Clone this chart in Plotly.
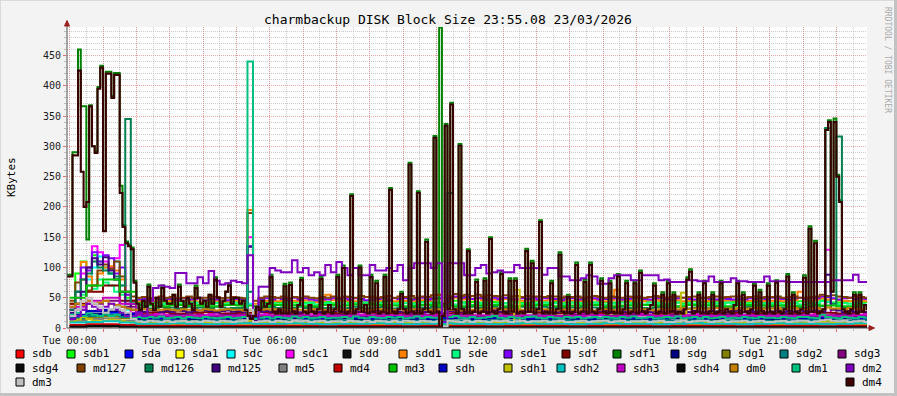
import numpy as np
import plotly.graph_objects as go

# ---------------- text ----------------
TITLE = "charmbackup DISK Block Size 23:55.08 23/03/2026"
Y_LABEL = "KBytes"
SIDE_TEXT = "RRDTOOL / TOBI OETIKER"
X_TICK_HOURS = list(range(24))
X_TICK_TEXT = [f"Tue {h:02d}:00" if h % 3 == 0 else "" for h in X_TICK_HOURS]

# ---------------- series (legend order = drawing order) ----------------
SERIES = ["sdb", "sdb1", "sda", "sda1", "sdc", "sdc1", "sdd", "sdd1", "sde", "sde1",
          "sdf", "sdf1", "sdg", "sdg1", "sdg2", "sdg3", "sdg4", "md127", "md126", "md125",
          "md5", "md4", "md3", "sdh", "sdh1", "sdh2", "sdh3", "sdh4", "dm0", "dm1", "dm2",
          "dm3", "dm4"]
COLORS = {
    "sdb": "#FF0000", "sdb1": "#00FF00", "sda": "#0000FF", "sda1": "#FFFF00",
    "sdc": "#00FFFF", "sdc1": "#FF00FF", "sdd": "#111111", "sdd1": "#FF8000",
    "sde": "#00FF80", "sde1": "#8000FF", "sdf": "#800000", "sdf1": "#008000",
    "sdg": "#000080", "sdg1": "#808000", "sdg2": "#008080", "sdg3": "#800080",
    "sdg4": "#0A0A0A", "md127": "#804000", "md126": "#008050", "md125": "#400080",
    "md5": "#808080", "md4": "#C00000", "md3": "#00C000", "sdh": "#0000C0",
    "sdh1": "#C0C000", "sdh2": "#00C0C0", "sdh3": "#C000C0", "sdh4": "#0A0A0A",
    "dm0": "#C08000", "dm1": "#00C080", "dm2": "#8000C0", "dm3": "#C0C0C0",
    "dm4": "#400000",
}

# ---- 5-minute series (first value is the 23:55 bin of the previous day) ----
dm4 = [85,
    85, 285, 285, 425, 258, 200, 208, 366, 300, 289, 395, 430,
    160, 420, 420, 380, 418, 418, 223, 167, 140, 135, 130, 75,
    40, 30, 45, 35, 68, 40, 30, 50, 35, 66, 45, 40,
    40, 55, 35, 68, 45, 35, 50, 40, 30, 66, 50, 40,
    45, 35, 55, 40, 80, 50, 35, 45, 60, 70, 40, 50,
    50, 40, 45, 30, 20, 15, 20, 35, 30, 45, 35, 40,
    84, 27, 24, 31, 24, 69, 24, 71, 27, 24, 38, 79,
    27, 24, 38, 27, 24, 31, 81, 24, 27, 38, 24, 31,
    84, 27, 99, 24, 27, 218, 24, 31, 100, 27, 38, 24,
    84, 27, 74, 24, 27, 84, 24, 228, 27, 24, 31, 56,
    31, 24, 270, 27, 24, 223, 24, 31, 142, 27, 24, 314,
    27, 0, 20, 334, 31, 369, 31, 24, 301, 31, 24, 127,
    24, 27, 76, 24, 27, 78, 24, 147, 27, 24, 31, 89,
    27, 24, 78, 27, 78, 24, 27, 24, 127, 27, 107, 24,
    31, 175, 24, 27, 24, 74, 24, 31, 121, 27, 24, 51,
    24, 27, 104, 24, 27, 76, 24, 104, 27, 24, 31, 78,
    27, 24, 74, 27, 24, 85, 24, 31, 74, 24, 27, 74,
    24, 91, 27, 24, 31, 38, 70, 24, 27, 55, 24, 74,
    27, 55, 24, 27, 24, 31, 80, 93, 24, 27, 55, 24,
    74, 24, 27, 55, 24, 27, 74, 24, 31, 27, 24, 38,
    74, 24, 55, 27, 24, 31, 70, 24, 59, 27, 24, 70,
    27, 24, 75, 27, 24, 31, 85, 24, 55, 27, 24, 31,
    83, 24, 164, 27, 140, 24, 27, 31, 327, 340, 60, 340,
    250, 208, 31, 27, 24, 31, 55, 24, 55, 27, 38, 31]

sdf1 = [88,
    88, 290, 290, 460, 366, 366, 146, 368, 300, 292, 398, 433,
    160, 423, 423, 383, 421, 421, 235, 170, 143, 138, 133, 78,
    40, 30, 45, 35, 72, 40, 30, 50, 35, 70, 45, 40,
    40, 55, 35, 72, 45, 35, 50, 40, 30, 70, 50, 40,
    45, 35, 55, 40, 84, 50, 35, 45, 60, 74, 40, 50,
    50, 40, 45, 30, 20, 15, 20, 35, 30, 45, 35, 40,
    88, 27, 24, 31, 24, 73, 24, 75, 27, 24, 38, 83,
    27, 24, 38, 27, 24, 31, 85, 24, 27, 38, 24, 31,
    88, 27, 103, 24, 27, 221, 24, 31, 103, 27, 38, 24,
    88, 27, 78, 24, 27, 88, 24, 231, 27, 24, 31, 60,
    31, 24, 273, 27, 24, 226, 24, 31, 146, 27, 24, 317,
    27, 496, 20, 337, 31, 372, 31, 24, 304, 31, 24, 130,
    24, 27, 80, 24, 27, 82, 24, 150, 27, 24, 31, 93,
    27, 24, 82, 27, 82, 24, 27, 24, 131, 27, 111, 24,
    31, 178, 24, 27, 24, 78, 24, 31, 125, 27, 24, 55,
    24, 27, 108, 24, 27, 80, 24, 108, 27, 24, 31, 82,
    27, 24, 78, 27, 24, 89, 24, 31, 78, 24, 27, 78,
    24, 95, 27, 24, 31, 38, 74, 24, 27, 59, 24, 78,
    27, 59, 24, 27, 24, 31, 84, 97, 24, 27, 59, 24,
    78, 24, 27, 59, 24, 27, 78, 24, 31, 27, 24, 38,
    78, 24, 59, 27, 24, 31, 74, 24, 63, 27, 24, 74,
    27, 24, 79, 27, 24, 31, 89, 24, 59, 27, 24, 31,
    87, 24, 168, 27, 144, 24, 27, 31, 330, 343, 60, 346,
    253, 211, 31, 27, 24, 31, 59, 24, 59, 27, 38, 31]

# ---- 10-minute series (6 values per hour, from 00:00) ----
dm2 = [15, 20, 30, 40, 35, 30,  35, 40, 30, 25, 20, 20,
       25, 20, 45, 66, 70, 68,  66, 91, 91, 74, 74, 84,
       74, 94, 78, 72, 74, 78,  76, 74, 120, 10, 68, 68,
       99, 95, 92, 92, 112, 92,  99, 87, 92, 87, 104, 92,
       109, 99, 87, 99, 87, 87,  104, 95, 95, 99, 94, 104,
       79, 99, 107, 107, 107, 99,  107, 10, 107, 107, 107, 87,
       87, 99, 104, 90, 92, 95,  92, 92, 104, 99, 99, 99,
       99, 88, 99, 99, 85, 85,  79, 79, 82, 87, 85, 73,
       73, 82, 87, 87, 87, 79,  79, 87, 87, 87, 79, 80,
       76, 76, 76, 79, 79, 77,  77, 85, 76, 76, 76, 82,
       77, 77, 76, 76, 76, 85,  77, 77, 77, 76, 76, 76,
       76, 76, 76, 76, 76, 79,  79, 79, 79, 88, 76, 76]

md127 = [45, 75, 80, 62, 70, 95,  105, 98, 110, 85, 60, 52,
         50, 51, 49, 50, 52, 50,  51, 49, 50, 52, 50, 49,
         50, 52, 51, 49, 50, 51,  50, 49, 190, 45, 50, 52,
         51, 50, 52, 49, 51, 50,  52, 50, 49, 51, 50, 52,
         50, 52, 51, 50, 53, 51,  52, 50, 51, 53, 50, 52,
         51, 53, 50, 52, 51, 54,  55, 40, 52, 56, 53, 55,
         53, 55, 52, 54, 53, 52,  54, 52, 53, 51, 53, 52,
         52, 51, 53, 52, 50, 52,  51, 52, 50, 51, 53, 51,
         50, 52, 51, 50, 52, 51,  52, 50, 51, 53, 51, 50,
         51, 52, 50, 51, 52, 50,  50, 51, 52, 50, 51, 52,
         52, 50, 51, 52, 50, 51,  51, 52, 50, 51, 52, 50,
         50, 51, 52, 55, 53, 54,  52, 51, 50, 52, 51, 50]

dm0 = [35, 40, 38, 45, 40, 42,  45, 40, 38, 35, 32, 30,
       30, 31, 30, 29, 30, 31,  30, 29, 31, 30, 30, 29,
       31, 30, 29, 30, 31, 30,  30, 29, 30, 25, 30, 31,
       30, 31, 30, 29, 31, 30,  29, 30, 31, 30, 29, 30,
       31, 30, 29, 31, 30, 29,  30, 31, 30, 29, 30, 31,
       29, 30, 31, 30, 30, 29,  31, 20, 30, 31, 29, 30,
       30, 29, 31, 30, 32, 30,  31, 30, 29, 30, 31, 30,
       29, 31, 30, 29, 30, 31,  30, 29, 31, 30, 29, 30,
       31, 30, 29, 31, 30, 29,  30, 31, 30, 29, 31, 30,
       32, 31, 33, 31, 32, 33,  31, 32, 33, 31, 32, 31,
       33, 31, 32, 33, 31, 32,  32, 33, 31, 32, 33, 31,
       31, 32, 33, 31, 34, 32,  32, 31, 33, 32, 31, 32]

sdd1 = [40, 60, 109, 85, 70, 90,  100, 102, 95, 80, 55, 45,
        44, 45, 43, 44, 46, 44,  45, 43, 44, 46, 44, 43,
        44, 46, 45, 43, 44, 45,  44, 43, 195, 40, 44, 45,
        45, 44, 46, 43, 45, 44,  46, 44, 43, 45, 55, 46,
        44, 46, 45, 44, 47, 45,  46, 44, 45, 47, 44, 46,
        45, 47, 44, 46, 45, 48,  48, 35, 46, 50, 47, 48,
        47, 49, 46, 48, 47, 46,  48, 46, 47, 45, 47, 46,
        46, 45, 47, 46, 44, 46,  45, 46, 44, 45, 47, 45,
        44, 46, 63, 44, 46, 45,  46, 44, 45, 47, 45, 44,
        45, 46, 44, 45, 46, 44,  44, 45, 46, 44, 45, 46,
        46, 44, 45, 46, 44, 45,  45, 46, 44, 45, 46, 60,
        44, 45, 46, 49, 47, 48,  46, 45, 44, 46, 45, 44]

sde = [30, 60, 55, 70, 65, 80,  75, 70, 60, 55, 45, 40,
       39, 40, 38, 41, 39, 40,  38, 41, 40, 39, 42, 38,
       40, 39, 41, 38, 40, 42,  39, 40, 20, 18, 38, 40,
       41, 39, 40, 42, 38, 40,  40, 42, 39, 38, 41, 39,
       42, 38, 40, 41, 39, 42,  39, 41, 42, 38, 40, 39,
       41, 40, 38, 42, 39, 41,  40, 15, 41, 39, 42, 40,
       38, 41, 40, 42, 39, 40,  41, 39, 42, 40, 38, 41,
       40, 42, 39, 41, 40, 38,  42, 40, 41, 39, 42, 40,
       39, 41, 40, 42, 38, 41,  41, 39, 42, 40, 41, 39,
       40, 42, 39, 41, 40, 42,  38, 40, 41, 39, 42, 40,
       41, 39, 40, 42, 39, 41,  40, 41, 39, 40, 42, 39,
       42, 40, 41, 44, 43, 41,  39, 41, 40, 42, 40, 39]

sde1 = [30, 60, 100, 95, 125, 110,  120, 115, 90, 100, 55, 45,
        47, 48, 46, 49, 47, 48,  48, 46, 49, 47, 48, 50,
        46, 48, 47, 49, 46, 48,  48, 47, 135, 15, 48, 49,
        47, 49, 48, 46, 50, 47,  49, 47, 46, 48, 47, 49,
        48, 50, 47, 49, 48, 46,  47, 48, 50, 46, 49, 48,
        49, 47, 48, 50, 47, 49,  50, 5, 49, 52, 50, 51,
        48, 50, 49, 47, 50, 48,  50, 48, 47, 49, 48, 50,
        47, 49, 50, 48, 46, 49,  49, 47, 48, 50, 49, 47,
        48, 50, 49, 47, 48, 50,  50, 48, 47, 49, 50, 48,
        47, 49, 50, 48, 47, 49,  49, 48, 47, 50, 48, 47,
        48, 47, 49, 48, 50, 48,  50, 49, 48, 47, 49, 50,
        48, 50, 49, 52, 51, 49,  47, 49, 50, 48, 49, 48]

sdb1 = [40, 90, 110, 100, 120, 110,  100, 90, 80, 60, 50, 42,
        42, 43, 41, 42, 44, 42,  43, 41, 42, 44, 42, 43,
        41, 43, 42, 41, 43, 44,  42, 43, 30, 20, 41, 42,
        44, 42, 43, 41, 42, 44,  42, 41, 44, 42, 43, 41,
        43, 44, 42, 41, 44, 42,  41, 42, 43, 44, 41, 43,
        44, 41, 42, 43, 44, 42,  42, 10, 44, 45, 42, 43,
        43, 42, 41, 44, 43, 42,  41, 44, 43, 42, 41, 44,
        44, 42, 41, 43, 44, 42,  42, 43, 44, 41, 42, 43,
        43, 41, 42, 44, 43, 41,  41, 44, 43, 42, 41, 44,
        44, 42, 41, 43, 44, 42,  42, 43, 44, 41, 42, 43,
        43, 41, 42, 44, 43, 41,  41, 44, 43, 42, 41, 44,
        44, 42, 41, 46, 44, 42,  42, 43, 44, 41, 42, 43]

md125 = [25, 40, 60, 100, 115, 105,  117, 95, 80, 60, 40, 30,
         28, 27, 29, 28, 26, 28,  27, 29, 28, 26, 28, 29,
         29, 28, 26, 28, 29, 27,  28, 26, 134, 12, 27, 28,
         26, 28, 29, 27, 28, 26,  28, 29, 27, 26, 29, 28,
         29, 27, 28, 29, 27, 26,  27, 28, 26, 29, 28, 27,
         28, 26, 29, 27, 26, 29,  26, 8, 28, 30, 27, 28,
         29, 27, 28, 26, 29, 27,  27, 29, 26, 28, 27, 29,
         28, 27, 29, 26, 28, 27,  26, 28, 27, 29, 26, 28,
         29, 26, 28, 27, 29, 26,  27, 29, 26, 28, 27, 29,
         28, 27, 29, 26, 28, 27,  26, 28, 27, 29, 26, 28,
         29, 26, 28, 27, 29, 26,  27, 29, 26, 28, 27, 29,
         28, 27, 29, 27, 88, 30,  29, 26, 28, 27, 29, 26]

md126 = [30, 60, 80, 90, 110, 100,  95, 90, 85, 70, 345, 40,
         33, 34, 32, 33, 35, 33,  34, 32, 33, 35, 33, 34,
         32, 33, 35, 34, 32, 33,  33, 34, 60, 30, 33, 34,
         35, 33, 34, 32, 33, 35,  33, 35, 34, 32, 33, 34,
         34, 32, 33, 35, 34, 32,  32, 34, 35, 33, 32, 34,
         33, 35, 32, 34, 33, 35,  34, 10, 223, 35, 33, 34,
         35, 33, 34, 32, 35, 33,  33, 34, 32, 35, 33, 34,
         32, 35, 33, 34, 32, 33,  34, 33, 35, 32, 34, 33,
         33, 32, 34, 35, 33, 32,  35, 33, 32, 34, 35, 33,
         34, 35, 33, 32, 34, 35,  33, 32, 35, 34, 33, 32,
         32, 34, 35, 33, 32, 34,  35, 33, 34, 32, 35, 33,
         33, 35, 34, 36, 330, 40,  316, 34, 33, 35, 32, 34]

sdc1 = [20, 50, 90, 100, 135, 125,  110, 100, 115, 137, 60, 25,
        22, 24, 21, 23, 25, 22,  24, 21, 23, 22, 25, 23,
        21, 23, 25, 22, 24, 21,  23, 22, 150, 12, 22, 24,
        25, 22, 24, 23, 21, 24,  22, 25, 23, 21, 24, 22,
        23, 21, 24, 25, 22, 23,  25, 23, 21, 24, 22, 25,
        24, 22, 25, 23, 21, 24,  22, 6, 26, 28, 25, 27,
        28, 26, 29, 27, 30, 26,  27, 29, 26, 28, 27, 29,
        26, 28, 27, 25, 28, 26,  25, 27, 24, 26, 28, 25,
        24, 26, 25, 23, 26, 24,  23, 25, 22, 24, 23, 25,
        22, 24, 23, 21, 24, 22,  21, 23, 22, 24, 21, 23,
        23, 21, 24, 22, 23, 21,  22, 24, 21, 23, 22, 24,
        24, 22, 23, 25, 129, 24,  22, 24, 21, 23, 22, 24]

sdc = [15, 30, 60, 80, 100, 118,  100, 90, 110, 70, 30, 15,
       10, 11, 9, 10, 12, 10,  11, 9, 10, 12, 10, 11,
       9, 10, 12, 11, 9, 10,  11, 10, 40, 8, 10, 11,
       12, 10, 11, 9, 10, 12,  10, 12, 11, 9, 10, 11,
       11, 9, 10, 12, 11, 9,  9, 11, 12, 10, 9, 11,
       10, 12, 9, 11, 10, 12,  11, 4, 10, 12, 11, 10,
       12, 10, 11, 9, 12, 10,  10, 11, 9, 12, 10, 11,
       9, 12, 10, 11, 9, 10,  11, 10, 12, 9, 11, 10,
       10, 9, 11, 12, 10, 9,  12, 10, 9, 11, 12, 10,
       11, 12, 10, 9, 11, 12,  10, 9, 12, 11, 10, 9,
       9, 11, 12, 10, 9, 11,  12, 10, 11, 9, 12, 10,
       10, 12, 11, 13, 20, 11,  12, 10, 11, 9, 12, 10]

dm3 = [20, 30, 45, 50, 40, 35,  25, 30, 35, 30, 25, 15,
       11, 10, 12, 11, 10, 12,  10, 11, 12, 10, 11, 10,
       12, 11, 10, 12, 11, 10,  11, 12, 30, 10, 11, 12,
       10, 12, 11, 10, 12, 11,  12, 10, 11, 12, 10, 11,
       11, 10, 12, 11, 10, 12,  10, 12, 11, 10, 12, 10,
       12, 11, 10, 12, 11, 10,  11, 3, 12, 11, 10, 12,
       10, 12, 11, 10, 12, 11,  12, 10, 11, 12, 10, 11,
       11, 12, 10, 11, 12, 10,  10, 11, 12, 10, 11, 12,
       12, 10, 11, 12, 10, 11,  11, 12, 10, 11, 12, 10,
       10, 11, 12, 10, 11, 12,  12, 10, 11, 12, 10, 11,
       11, 12, 10, 11, 12, 10,  10, 11, 12, 10, 11, 12,
       12, 10, 11, 13, 14, 12,  11, 12, 10, 11, 12, 10]

sdh1 = [10, 14, 18, 15, 12, 11,  12, 14, 13, 11, 10, 9,
        9, 10, 8, 9, 10, 9,  8, 9, 10, 9, 8, 9,
        10, 9, 8, 9, 10, 9,  9, 8, 12, 7, 9, 10,
        9, 10, 9, 8, 9, 10,  8, 9, 10, 9, 8, 9,
        10, 8, 9, 10, 9, 8,  9, 10, 8, 9, 10, 9,
        8, 9, 10, 9, 8, 10,  9, 3, 9, 10, 9, 8,
        9, 10, 8, 9, 10, 9,  10, 9, 63, 9, 8, 10,
        9, 8, 10, 9, 9, 8,  10, 9, 8, 10, 9, 9,
        8, 10, 9, 9, 8, 10,  9, 9, 10, 8, 9, 10,
        10, 9, 58, 10, 9, 8,  9, 10, 9, 8, 10, 9,
        8, 9, 10, 9, 8, 10,  10, 8, 9, 10, 9, 8,
        9, 10, 8, 11, 12, 9,  10, 9, 8, 10, 9, 9]

dm1 = [22, 25, 20, 24, 22, 20,  24, 20, 22, 25, 20, 18,
       18, 16, 18, 17, 19, 16,  17, 18, 16, 18, 17, 16,
       18, 17, 16, 17, 18, 16,  17, 18, 440, 15, 17, 18,
       16, 18, 17, 16, 19, 17,  18, 16, 17, 18, 16, 17,
       17, 18, 16, 19, 17, 16,  18, 17, 16, 18, 17, 18,
       16, 17, 19, 16, 18, 17,  17, 5, 18, 20, 17, 16,
       18, 16, 17, 18, 20, 17,  16, 18, 17, 16, 18, 19,
       17, 16, 18, 17, 16, 18,  17, 18, 16, 17, 18, 16,
       18, 17, 16, 18, 17, 19,  16, 17, 18, 16, 17, 18,
       17, 19, 16, 17, 18, 16,  18, 16, 17, 18, 16, 17,
       16, 18, 17, 16, 18, 17,  17, 16, 18, 17, 16, 18,
       18, 17, 16, 22, 18, 17,  16, 18, 17, 16, 18, 17]

# ---- 30-minute series (2 values per hour, from 00:00) ----
sdb = [4, 4, 3, 4, 4, 3, 4, 3, 4, 4, 3, 4,
       4, 3, 4, 4, 3, 4, 4, 3, 4, 4, 3, 4,
       3, 4, 4, 3, 4, 4, 3, 4, 4, 3, 4, 4,
       4, 3, 4, 4, 3, 4, 4, 3, 4, 4, 3, 4]
sda = [18, 22, 25, 20, 13, 12, 14, 13, 12, 13, 12, 14,
       13, 12, 13, 14, 12, 13, 12, 13, 14, 12, 13, 12,
       14, 13, 12, 13, 12, 14, 13, 12, 13, 14, 12, 13,
       12, 13, 14, 12, 13, 12, 14, 13, 12, 13, 12, 13]
sda1 = [10, 14, 16, 12, 7, 6, 7, 6, 5, 6, 7, 6,
        6, 7, 6, 5, 6, 7, 6, 6, 7, 6, 5, 6,
        7, 6, 6, 5, 7, 6, 6, 7, 5, 6, 7, 6,
        6, 5, 7, 6, 6, 7, 6, 5, 6, 7, 6, 6]
sdd = [3, 4, 5, 3, 2, 2, 2, 2, 2, 2, 2, 2,
       2, 2, 2, 2, 2, 2, 2, 2, 2, 2, 2, 2,
       2, 2, 2, 2, 2, 2, 2, 2, 2, 2, 2, 2,
       2, 2, 2, 2, 2, 2, 2, 2, 2, 2, 2, 2]
sdf = [40, 60, 70, 45, 25, 26, 24, 25, 26, 24, 25, 26,
       25, 24, 26, 25, 24, 26, 25, 24, 25, 26, 24, 25,
       26, 25, 24, 26, 25, 24, 26, 25, 24, 25, 26, 24,
       25, 26, 24, 25, 26, 24, 25, 24, 26, 25, 24, 26]
sdg = [20, 24, 28, 22, 15, 14, 16, 15, 14, 15, 16, 14,
       15, 16, 14, 15, 16, 15, 14, 16, 15, 14, 15, 16,
       14, 15, 16, 14, 15, 16, 15, 14, 16, 15, 14, 15,
       16, 14, 15, 16, 14, 15, 15, 16, 14, 15, 16, 14]
sdg1 = [14, 18, 20, 16, 11, 10, 12, 11, 10, 11, 12, 10,
        11, 12, 10, 11, 12, 11, 10, 12, 11, 10, 11, 12,
        10, 11, 12, 10, 11, 12, 11, 10, 12, 11, 10, 11,
        12, 10, 11, 12, 10, 11, 11, 12, 10, 11, 12, 10]
sdg2 = [16, 20, 22, 18, 12, 13, 12, 11, 13, 12, 11, 13,
        12, 11, 13, 12, 13, 11, 12, 13, 12, 11, 13, 12,
        11, 13, 12, 11, 12, 13, 12, 11, 13, 12, 11, 13,
        12, 13, 11, 12, 13, 12, 11, 12, 13, 11, 12, 13]
sdg3 = [30, 40, 45, 35, 21, 20, 22, 21, 20, 22, 21, 20,
        21, 22, 20, 21, 22, 20, 21, 20, 22, 21, 20, 22,
        20, 21, 22, 20, 21, 20, 22, 21, 20, 22, 21, 20,
        22, 20, 21, 22, 20, 21, 21, 22, 20, 21, 22, 20]
sdg4 = [2, 3, 3, 2, 1, 1, 1, 1, 1, 1, 1, 1,
        1, 1, 1, 1, 1, 1, 1, 1, 1, 1, 1, 1,
        1, 1, 1, 1, 1, 1, 1, 1, 1, 1, 1, 1,
        1, 1, 1, 1, 1, 1, 1, 1, 1, 1, 1, 1]
md5 = [12, 15, 16, 12, 8, 8, 9, 8, 7, 8, 9, 8,
       8, 9, 8, 7, 8, 8, 9, 8, 7, 8, 9, 8,
       8, 7, 8, 9, 8, 8, 7, 8, 9, 8, 8, 7,
       8, 9, 8, 8, 7, 8, 9, 8, 8, 7, 8, 9]
md4 = [5, 6, 6, 5, 4, 4, 4, 4, 4, 4, 4, 4,
       4, 4, 4, 4, 4, 4, 4, 4, 4, 4, 4, 4,
       4, 4, 4, 4, 4, 4, 4, 4, 4, 4, 4, 4,
       4, 4, 4, 4, 4, 4, 4, 4, 4, 4, 4, 4]
md3 = [50, 70, 80, 60, 37, 36, 38, 37, 36, 38, 37, 36,
       38, 37, 36, 38, 37, 39, 38, 37, 36, 38, 37, 36,
       37, 38, 36, 37, 38, 36, 37, 38, 36, 37, 38, 37,
       36, 38, 37, 36, 38, 37, 37, 36, 38, 37, 36, 38]
sdh = [22, 28, 30, 24, 17, 16, 18, 17, 16, 17, 18, 16,
       17, 18, 16, 17, 18, 17, 16, 18, 17, 16, 17, 18,
       16, 17, 18, 16, 17, 18, 17, 16, 18, 17, 16, 17,
       18, 16, 17, 18, 16, 17, 17, 18, 16, 17, 18, 16]
sdh2 = [9, 10, 11, 9, 7, 7, 8, 7, 6, 7, 8, 7,
        7, 8, 7, 6, 7, 7, 8, 7, 6, 7, 8, 7,
        7, 6, 7, 8, 7, 7, 6, 7, 8, 7, 7, 6,
        7, 8, 7, 7, 6, 7, 8, 7, 7, 6, 7, 8]
sdh3 = [35, 45, 50, 40, 20, 21, 19, 20, 21, 19, 20, 21,
        20, 19, 21, 20, 19, 21, 20, 21, 19, 20, 21, 19,
        21, 20, 19, 21, 20, 19, 20, 21, 19, 20, 21, 20,
        19, 21, 20, 19, 21, 20, 20, 19, 21, 20, 19, 21]
sdh4 = [2, 3, 3, 2, 1, 1, 1, 1, 1, 1, 1, 1,
        1, 1, 1, 1, 1, 1, 1, 1, 1, 1, 1, 1,
        1, 1, 1, 1, 1, 1, 1, 1, 1, 1, 1, 1,
        1, 1, 1, 1, 1, 1, 1, 1, 1, 1, 1, 1]

STEP5, STEP10, STEP30 = 1 / 12, 1 / 6, 1 / 2
DATA = {
    "sdb": (sdb, STEP30, 0.0), "sdb1": (sdb1, STEP10, 0.0), "sda": (sda, STEP30, 0.0),
    "sda1": (sda1, STEP30, 0.0), "sdc": (sdc, STEP10, 0.0), "sdc1": (sdc1, STEP10, 0.0),
    "sdd": (sdd, STEP30, 0.0), "sdd1": (sdd1, STEP10, 0.0), "sde": (sde, STEP10, 0.0),
    "sde1": (sde1, STEP10, 0.0), "sdf": (sdf, STEP30, 0.0), "sdf1": (sdf1, STEP5, -STEP5),
    "sdg": (sdg, STEP30, 0.0), "sdg1": (sdg1, STEP30, 0.0), "sdg2": (sdg2, STEP30, 0.0),
    "sdg3": (sdg3, STEP30, 0.0), "sdg4": (sdg4, STEP30, 0.0), "md127": (md127, STEP10, 0.0),
    "md126": (md126, STEP10, 0.0), "md125": (md125, STEP10, 0.0), "md5": (md5, STEP30, 0.0),
    "md4": (md4, STEP30, 0.0), "md3": (md3, STEP30, 0.0), "sdh": (sdh, STEP30, 0.0),
    "sdh1": (sdh1, STEP10, 0.0), "sdh2": (sdh2, STEP30, 0.0), "sdh3": (sdh3, STEP30, 0.0),
    "sdh4": (sdh4, STEP30, 0.0), "dm0": (dm0, STEP10, 0.0), "dm1": (dm1, STEP10, 0.0),
    "dm2": (dm2, STEP10, 0.0), "dm3": (dm3, STEP10, 0.0), "dm4": (dm4, STEP5, -STEP5),
}

# ---------------- layout geometry ----------------
W, H = 897, 396
L, R, T, B = 67, 30, 27, 68
PW, PH = W - L - R, H - T - B
X_RANGE = [-0.081, 23.919]
Y_RANGE = [0, 497]
MONO = "DejaVu Sans Mono"
MAJ_GRID = "rgba(232,120,120,0.65)"
MIN_GRID = "rgba(170,170,170,0.6)"


def pxx(x):
    return (x - L) / PW


def pxy(y):
    return (H - B - y) / PH


def step_xy(vals, step, start):
    x = start + np.arange(len(vals) + 1) * step
    y = list(vals) + [vals[-1]]
    return x, y


fig = go.Figure()
for name in SERIES:
    vals, step, start = DATA[name]
    x, y = step_xy(vals, step, start)
    width = 2.1 if name == "dm4" else 2
    dash = "7px,5px" if name == "sdb" else "solid"
    fig.add_trace(go.Scatter(x=x, y=y, mode="lines", hoverinfo="skip", showlegend=False,
                             line=dict(color=COLORS[name], width=width, shape="hv", dash=dash)))
    if name == "dm4":
        fig.add_trace(go.Scatter(x=x, y=y, mode="lines", hoverinfo="skip", showlegend=False,
                                 opacity=0.8,
                                 line=dict(color="#000000", width=0.7, shape="hv", dash="1px,2px")))

shapes = []
annotations = []

# axes with arrows
AX = "#505050"
ARROW = "#9A1F1F"
shapes.append(dict(type="line", xref="paper", yref="paper", x0=pxx(67), x1=pxx(870),
                   y0=pxy(328), y1=pxy(328), line=dict(color=AX, width=1)))
shapes.append(dict(type="line", xref="paper", yref="paper", x0=pxx(67), x1=pxx(67),
                   y0=pxy(328), y1=pxy(24), line=dict(color=AX, width=1)))
shapes.append(dict(type="path", xref="paper", yref="paper", fillcolor=ARROW, line=dict(color=ARROW, width=1),
                   path=f"M {pxx(64.5)} {pxy(26)} L {pxx(67)} {pxy(20.5)} L {pxx(69.5)} {pxy(26)} Z"))
shapes.append(dict(type="path", xref="paper", yref="paper", fillcolor=ARROW, line=dict(color=ARROW, width=1),
                   path=f"M {pxx(869)} {pxy(325.5)} L {pxx(874.5)} {pxy(328)} L {pxx(869)} {pxy(330.5)} Z"))

# image border
shapes.append(dict(type="line", xref="paper", yref="paper", x0=pxx(0), x1=pxx(W),
                   y0=pxy(0.5), y1=pxy(0.5), line=dict(color="#DADADA", width=1)))
shapes.append(dict(type="line", xref="paper", yref="paper", x0=pxx(0.5), x1=pxx(0.5),
                   y0=pxy(0), y1=pxy(H), line=dict(color="#DADADA", width=1)))
shapes.append(dict(type="line", xref="paper", yref="paper", x0=pxx(0), x1=pxx(W),
                   y0=pxy(394.5), y1=pxy(394.5), line=dict(color="#C2C2C2", width=3)))
shapes.append(dict(type="line", xref="paper", yref="paper", x0=pxx(895.5), x1=pxx(895.5),
                   y0=pxy(0), y1=pxy(H), line=dict(color="#C2C2C2", width=3)))

# legend (RRDtool style, justified rows)
LEGEND_ROWS = [
    (354, SERIES[0:16], [16, 67, 125, 176, 227, 286, 343, 399, 452, 504, 562, 613, 671, 722, 780, 838]),
    (368, SERIES[16:31], [16, 77, 145, 212, 279, 334, 389, 439, 504, 557, 617, 677, 730, 792, 846]),
    (382, SERIES[31:33], [16, 846]),
]
for yc, names, xs in LEGEND_ROWS:
    for name, x0 in zip(names, xs):
        shapes.append(dict(type="rect", xref="paper", yref="paper",
                           x0=pxx(x0), x1=pxx(x0 + 8), y0=pxy(yc + 4), y1=pxy(yc - 4),
                           fillcolor=COLORS[name], line=dict(color="#000000", width=1)))
        annotations.append(dict(xref="paper", yref="paper", x=pxx(x0 + 14), y=pxy(yc),
                                text=name, showarrow=False, xanchor="left", yanchor="middle",
                                font=dict(family=MONO, size=11, color="#000000")))

annotations.append(dict(xref="paper", yref="paper", x=pxx(448), y=pxy(19), text=TITLE,
                        showarrow=False, xanchor="center", yanchor="middle",
                        font=dict(family=MONO, size=13, color="#000000")))
annotations.append(dict(xref="paper", yref="paper", x=pxx(11), y=pxy(177), text=Y_LABEL,
                        showarrow=False, xanchor="center", yanchor="middle", textangle=-90,
                        font=dict(family=MONO, size=11, color="#000000")))
annotations.append(dict(xref="paper", yref="paper", x=pxx(888), y=pxy(60), text=SIDE_TEXT,
                        showarrow=False, xanchor="center", yanchor="middle", textangle=90,
                        font=dict(family=MONO, size=8, color="#ABABAB")))

fig.update_layout(
    width=W, height=H, margin=dict(l=L, r=R, t=T, b=B, pad=0),
    paper_bgcolor="#F3F3F3", plot_bgcolor="#FFFFFF",
    showlegend=False, shapes=shapes, annotations=annotations,
    xaxis=dict(range=X_RANGE, tickmode="array", tickvals=X_TICK_HOURS, ticktext=X_TICK_TEXT,
               showgrid=True, gridcolor=MAJ_GRID, griddash="1px,1px", gridwidth=1,
               ticks="outside", ticklen=3, tickcolor="#E07070", tickwidth=1,
               minor=dict(tickmode="linear", tick0=0, dtick=0.5, showgrid=True, gridcolor=MIN_GRID,
                          griddash="1px,1px", gridwidth=1, ticks="outside", ticklen=2,
                          tickcolor="#BBBBBB"),
               zeroline=False, showline=False, fixedrange=True,
               tickfont=dict(family=MONO, size=10, color="#1A1A1A")),
    yaxis=dict(range=Y_RANGE, tickmode="linear", tick0=0, dtick=50,
               showgrid=True, gridcolor=MAJ_GRID, griddash="1px,1px", gridwidth=1,
               ticks="outside", ticklen=3, tickcolor="#E07070", tickwidth=1,
               minor=dict(tickmode="linear", tick0=0, dtick=10, showgrid=True, gridcolor=MIN_GRID,
                          griddash="1px,1px", gridwidth=1, ticks="outside", ticklen=2,
                          tickcolor="#BBBBBB"),
               zeroline=False, showline=False, fixedrange=True,
               tickfont=dict(family=MONO, size=10, color="#1A1A1A")),
)

POST_JS = "document.body.style.margin='0';document.body.style.padding='0';document.body.style.overflow='hidden';"
fig.write_html("out.html", include_plotlyjs=True, post_script=POST_JS,
               config={"displayModeBar": False, "staticPlot": True})
